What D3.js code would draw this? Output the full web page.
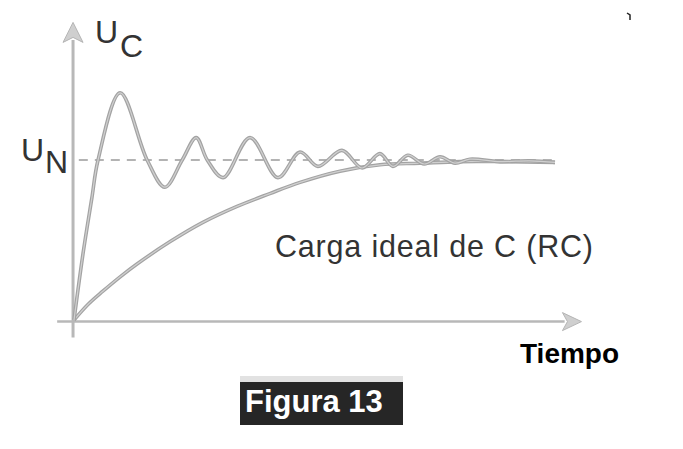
<!DOCTYPE html>
<html>
<head>
<meta charset="utf-8">
<script src="https://cdn.jsdelivr.net/npm/d3@7/dist/d3.min.js"></script>
<style>
html,body{margin:0;padding:0;background:#fff;}
svg{display:block;}
</style>
</head>
<body>
<script>
// ---- data (t in arbitrary time units, U relative to U_N = 1) ----
const waveT = [0, 0.19, 0.37, 0.50, 0.96, 1.52, 1.89, 2.25, 2.54, 2.77, 3.10, 3.66, 4.24, 4.70, 5.07, 5.57, 5.99, 6.36, 6.63, 6.94, 7.28, 7.61, 7.92, 8.23, 8.86, 9.48, 10.0];
const waveU = [0, 0.42, 0.76, 1.00, 1.42, 1.00, 0.83, 1.00, 1.14, 1.00, 0.89, 1.14, 0.89, 1.05, 0.96, 1.06, 0.95, 1.04, 0.96, 1.03, 0.975, 1.02, 0.98, 1.005, 0.99, 0.995, 0.985];
const rcT = [0, 0.30, 0.60, 0.96, 1.31, 2.00, 2.68, 3.39, 4.07, 4.70, 5.53, 6.36, 7.19, 8.02, 8.86, 10.0];
const rcU = [0, 0.10, 0.18, 0.27, 0.35, 0.49, 0.61, 0.71, 0.79, 0.86, 0.93, 0.97, 0.98, 0.99, 0.99, 0.985];
const nominalU = 1;
const labels = { yAxis: "U", ySub: "C", nominal: "U", nominalSub: "N", curve: "Carga ideal de C (RC)", xAxis: "Tiempo", figure: "Figura 13" };

const W = 683, H = 449;
const svg = d3.select("body").append("svg").attr("width", W).attr("height", H);

const x = d3.scaleLinear().domain([0, 10]).range([74, 555]);
const y = d3.scaleLinear().domain([0, 1]).range([320, 160]);

const axisCol = "#b8b8b8";
const curveCol = "#a3a3a3";

// axes
svg.append("line").attr("x1", x(-0.35)).attr("x2", x(10.2)).attr("y1", y(-0.01)).attr("y2", y(-0.01))
  .attr("stroke", axisCol).attr("stroke-width", 2.5);
svg.append("line").attr("x1", x(-0.02)).attr("x2", x(-0.02)).attr("y1", y(-0.11)).attr("y2", y(1.75))
  .attr("stroke", axisCol).attr("stroke-width", 3);
// arrowheads
const tipX = [x(10.55), y(-0.01)];
svg.append("path")
  .attr("d", `M${tipX[0]},${tipX[1]} L${tipX[0]-19},${tipX[1]-9} L${tipX[0]-14},${tipX[1]} L${tipX[0]-19},${tipX[1]+9} Z`)
  .attr("fill", "#cfcfcf").attr("stroke", "#b5b5b5").attr("stroke-width", 1);
const tipY = [x(-0.02), y(1.86)];
svg.append("path")
  .attr("d", `M${tipY[0]},${tipY[1]} L${tipY[0]-10},${tipY[1]+20} L${tipY[0]},${tipY[1]+15} L${tipY[0]+10},${tipY[1]+20} Z`)
  .attr("fill", "#cfcfcf").attr("stroke", "#b5b5b5").attr("stroke-width", 1);

// nominal dashed line
svg.append("line").attr("x1", x(0.1)).attr("x2", x(10)).attr("y1", y(nominalU)).attr("y2", y(nominalU))
  .attr("stroke", "#9a9a9a").attr("stroke-width", 1.4).attr("stroke-dasharray", "9,7");

const line = d3.line().x(d => x(d[0])).y(d => y(d[1])).curve(d3.curveCatmullRom.alpha(0.5));

const rcData = rcT.map((t, i) => [t, rcU[i]]);
const waveData = waveT.map((t, i) => [t, waveU[i]]);

[rcData, waveData].forEach(data => {
  svg.append("path").datum(data).attr("d", line).attr("fill", "none")
    .attr("stroke", curveCol).attr("stroke-width", 3.6).attr("stroke-linejoin", "round");
  svg.append("path").datum(data).attr("d", line).attr("fill", "none")
    .attr("stroke", "#d0d0d0").attr("stroke-width", 1.2);
});

// labels
const tf = "'Liberation Sans', Arial, sans-serif";
svg.append("text").attr("x", 95).attr("y", 43).attr("font-family", tf).attr("font-size", 32).attr("fill", "#333").text(labels.yAxis);
svg.append("text").attr("x", 120).attr("y", 57).attr("font-family", tf).attr("font-size", 32).attr("fill", "#333").text(labels.ySub);
svg.append("text").attr("x", 21).attr("y", 161).attr("font-family", tf).attr("font-size", 32).attr("fill", "#333").text(labels.nominal);
svg.append("text").attr("x", 45).attr("y", 173).attr("font-family", tf).attr("font-size", 32).attr("fill", "#333").text(labels.nominalSub);
svg.append("text").attr("x", 275).attr("y", 257).attr("font-family", tf).attr("font-size", 30.5).attr("fill", "#333")
  .attr("textLength", 318).attr("lengthAdjust", "spacing").text(labels.curve);
svg.append("text").attr("x", 520).attr("y", 363).attr("font-family", tf).attr("font-size", 28).attr("font-weight", "bold").attr("fill", "#000").text(labels.xAxis);

// figure caption
svg.append("rect").attr("x", 240).attr("y", 376).attr("width", 163).attr("height", 6).attr("fill", "#e2e2e2");
svg.append("rect").attr("x", 240).attr("y", 382).attr("width", 163).attr("height", 43).attr("fill", "#262626");
svg.append("text").attr("x", 245).attr("y", 412).attr("font-family", tf).attr("font-size", 31).attr("font-weight", "bold").attr("fill", "#fff").text(labels.figure);

// small scan mark top right
svg.append("path").attr("d", "M627,13 L630,15 L630,20").attr("fill", "none").attr("stroke", "#222").attr("stroke-width", 1.5);
</script>
</body>
</html>
